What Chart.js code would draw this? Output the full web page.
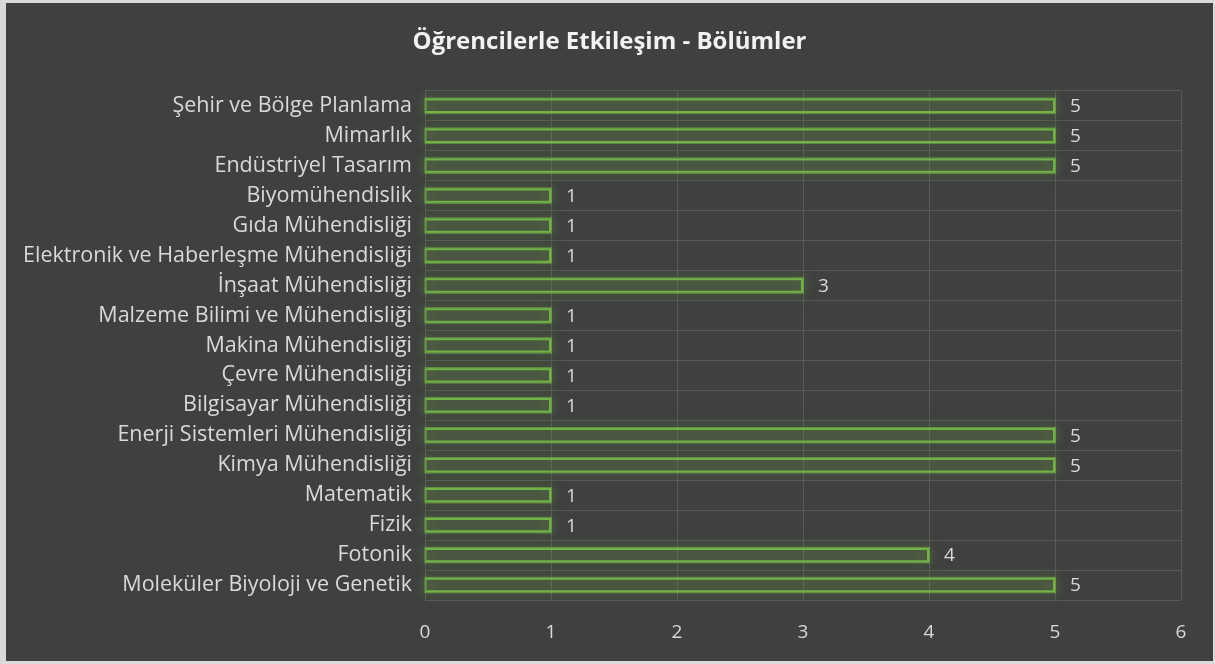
<!DOCTYPE html>
<html>
<head>
<meta charset="utf-8">
<script src="https://cdn.jsdelivr.net/npm/chart.js@4"></script>
<style>
    html, body { margin: 0; padding: 0; background: #d9d9d9; }
    #wrap { position: absolute; left: 6px; top: 3px; width: 1207px; height: 658px; background: #404040; }
</style>
</head>
<body>
<div id="wrap"><canvas id="myChart"></canvas></div>
<script>
// chart data
var bolumler = [
    'Şehir ve Bölge Planlama', 'Mimarlık', 'Endüstriyel Tasarım', 'Biyomühendislik',
    'Gıda Mühendisliği', 'Elektronik ve Haberleşme Mühendisliği', 'İnşaat Mühendisliği',
    'Malzeme Bilimi ve Mühendisliği', 'Makina Mühendisliği', 'Çevre Mühendisliği',
    'Bilgisayar Mühendisliği', 'Enerji Sistemleri Mühendisliği', 'Kimya Mühendisliği',
    'Matematik', 'Fizik', 'Fotonik', 'Moleküler Biyoloji ve Genetik'
];
var etkilesim = [5, 5, 5, 1, 1, 1, 3, 1, 1, 1, 1, 5, 5, 1, 1, 4, 5];
var xTicks = [0, 1, 2, 3, 4, 5, 6];

var fontName = "'Open Sans', sans-serif";

// glow round the bars (chart.js clips its own bar drawing, so the glow is stroked here first)
const glowPlugin = {
    id: 'glow',
    beforeDatasetsDraw: function (chart) {
        var ctx = chart.ctx;
        ctx.save();
        ctx.strokeStyle = 'rgba(112, 173, 71, 0.45)';
        ctx.lineWidth = 2;
        ctx.shadowColor = 'rgba(112, 173, 71, 1)';
        ctx.shadowBlur = 12;
        chart.getDatasetMeta(0).data.forEach(function (bar) {
            var p = bar.getProps(['x', 'y', 'base', 'height']);
            for (var k = 0; k < 2; k++) {
                ctx.strokeRect(p.base, p.y - p.height / 2, p.x - p.base, p.height);
            }
        });
        ctx.restore();
    }
};

// value next to each bar
const valueLabels = {
    id: 'valueLabels',
    afterDatasetsDraw: function (chart) {
        var ctx = chart.ctx;
        var meta = chart.getDatasetMeta(0);
        ctx.save();
        ctx.fillStyle = '#d9d9d9';
        ctx.font = '19px ' + fontName;
        ctx.textAlign = 'left';
        ctx.textBaseline = 'middle';
        meta.data.forEach(function (bar, i) {
            ctx.fillText(chart.data.datasets[0].data[i], bar.x + 15, bar.y + 1);
        });
        ctx.restore();
    }
};

const config = {
    type: 'bar',
    data: {
        labels: bolumler,
        datasets: [{
            label: 'Etkileşim',
            data: etkilesim,
            backgroundColor: 'rgba(112, 173, 71, 0.12)',
            borderColor: '#72b348',
            borderWidth: 2,
            barPercentage: 0.48,
            categoryPercentage: 1
        }]
    },
    options: {
        indexAxis: 'y',
        responsive: true, maintainAspectRatio: false,
        animation: false,
        layout: { padding: 0 },
        scales: {
            x: {
                min: 0, max: 6,
                afterBuildTicks: function (axis) {
                    axis.ticks = xTicks.map(function (v) { return { value: v }; });
                },
                afterFit: function (axis) { axis.height = 61; },
                grid: { color: '#595959', lineWidth: 1, drawTicks: false },
                border: { display: false },
                ticks: { color: '#d9d9d9', font: { family: fontName, size: 19 }, padding: 21 }
            },
            y: {
                afterFit: function (axis) { axis.width = 419; },
                grid: { color: '#595959', lineWidth: 1, drawTicks: false, offset: true },
                border: { color: '#595959' },
                ticks: { color: '#d9d9d9', font: { family: fontName, size: 21.5 }, padding: 13, autoSkip: false }
            },
            // empty axis on the right, only keeps space free
            yRight: {
                position: 'right',
                afterFit: function (axis) { axis.width = 32; },
                grid: { display: false },
                border: { display: false },
                ticks: { display: false }
            }
        },
        plugins: {
            legend: { display: false },
            tooltip: { enabled: false },
            title: {
                display: true,
                text: 'Öğrencilerle Etkileşim - Bölümler',
                color: '#f2f2f2',
                font: { family: fontName, size: 24, weight: 'bold' },
                padding: { top: 25, bottom: 34 }
            }
        }
    },
    plugins: [glowPlugin, valueLabels]
};

var myChart = new Chart(document.getElementById('myChart'), config);
</script>
</body>
</html>
